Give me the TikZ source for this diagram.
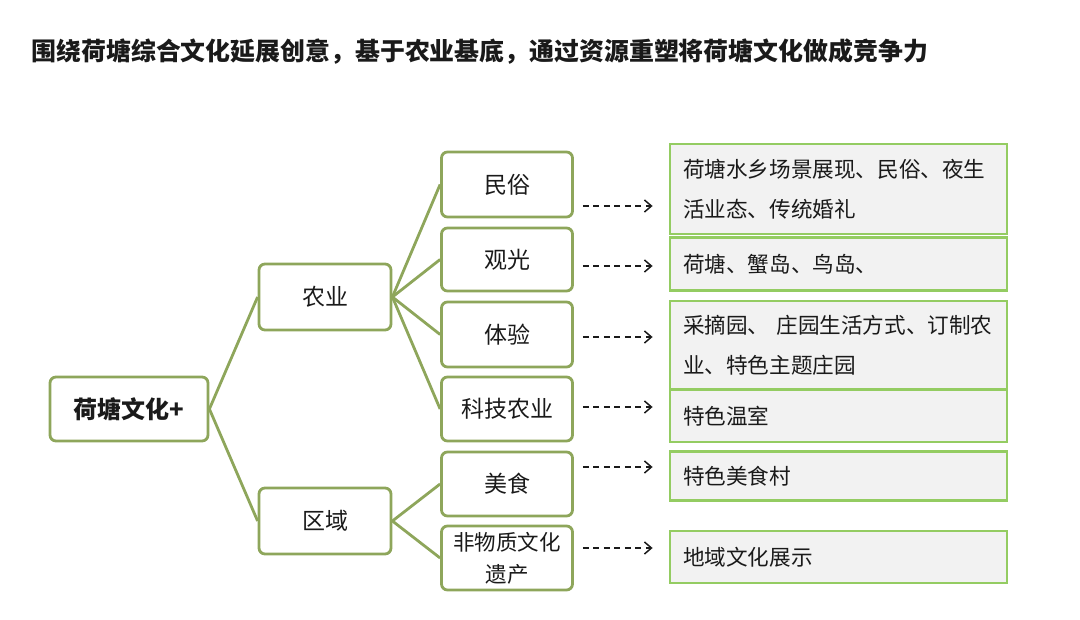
\documentclass[tikz,border=0pt]{standalone}
\usepackage{fontspec}
\setmainfont{Noto Sans CJK SC}
\usetikzlibrary{arrows.meta,calc}
\definecolor{olive}{HTML}{8EA65B}
\definecolor{leaf}{HTML}{94CC62}
\definecolor{paper}{HTML}{F2F2F2}
\definecolor{ink}{HTML}{1A1A1A}
\begin{document}
\begin{tikzpicture}[x=1pt, y=-1pt]
	\tikzstyle{branch} = [rectangle, rounded corners=6pt, draw=olive, line width=2.8pt, fill=white, text=ink, minimum width=131, inner sep=0pt, font=\fontsize{23}{28}\selectfont]
	\tikzstyle{detail} = [rectangle, draw=leaf, line width=2.8pt, fill=paper, text=ink, text width=311, inner xsep=13, inner ysep=0pt, align=left, font=\fontsize{21.6}{40}\selectfont]
	\tikzstyle{link}   = [draw=olive, line width=2.8pt]
	\tikzstyle{flow}   = [draw=ink, line width=1.5pt, dash pattern=on 6pt off 4.5pt, -{Straight Barb[length=7pt, width=12pt, line width=1.5pt]}]

	\useasboundingbox (0,0) rectangle (1080,620);

	% title
	\node[anchor=west, text=ink, font=\fontsize{24.9}{28}\selectfont\bfseries] (title) at (28,52) {围绕荷塘综合文化延展创意，基于农业基底，通过资源重塑将荷塘文化做成竞争力};

	% tree
	\node[branch, minimum width=158, minimum height=64, font=\fontsize{24}{28}\selectfont\bfseries] (root) at (129,409) {荷塘文化+};
	\foreach \name/\txt/\y in {nongye/农业/297, quyu/区域/521}
		\node[branch, minimum width=132, minimum height=66] (\name) at (325,\y) {\txt};

	\foreach \name/\txt/\y/\h in {minsu/民俗/184.5/65, guanguang/观光/259.5/63, tiyan/体验/334.5/65, keji/科技农业/409/64, meishi/美食/484/64}
		\node[branch, minimum height=\h] (\name) at (507,\y) {\txt};
	\node[branch, minimum height=64, align=center, font=\fontsize{21.5}{32}\selectfont] (feiyi) at (507,558) {非物质文化\\遗产};

	\foreach \from/\to in {root/nongye, root/quyu, nongye/minsu, nongye/guanguang, nongye/tiyan, nongye/keji, quyu/meishi, quyu/feiyi}
		\path[link] (\from.east) -- (\to.west);

	% details
	\foreach \name/\txt/\y/\h in {d1/{荷塘水乡场景展现、民俗、夜生\\活业态、传统婚礼}/189/90, d2/荷塘、蟹岛、鸟岛、/264/53, d3/{采摘园、 庄园生活方式、订制农\\业、特色主题庄园}/345/88, d4/特色温室/416/52, d5/特色美食村/476/49, d6/地域文化展示/557/52}
		\node[detail, minimum height=\h] (\name) at (838.5,\y) {\txt};

	\foreach \from/\to/\y in {minsu/d1/206, guanguang/d2/266, tiyan/d3/337, keji/d4/407, meishi/d5/467, feiyi/d6/548}
		\path[flow] ($(\from.east |- 0,\y)+(9,0)$) -- ($(\to.west |- 0,\y)+(-16,0)$);
\end{tikzpicture}
\end{document}
